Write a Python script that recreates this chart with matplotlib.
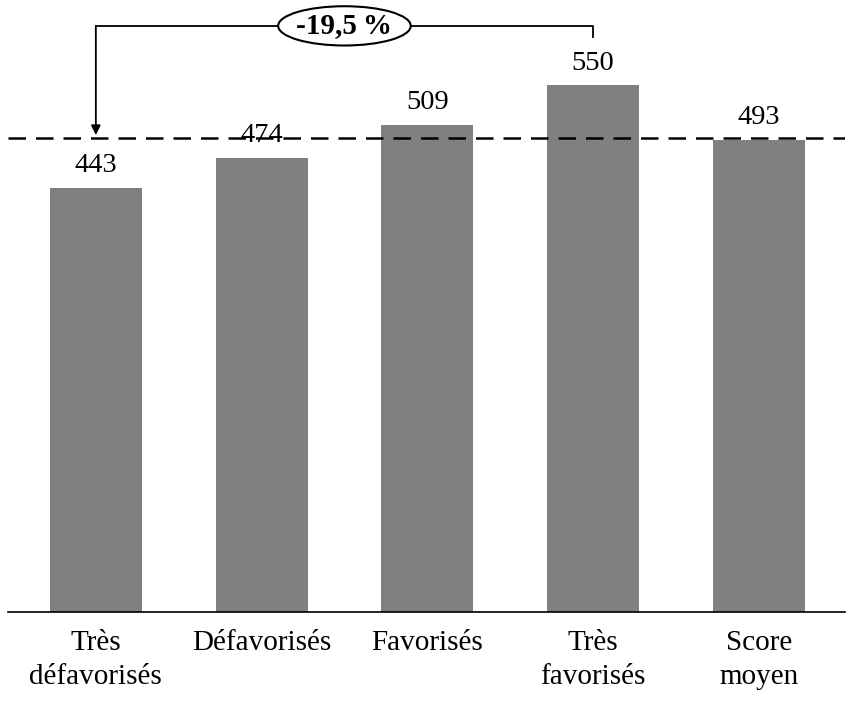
import matplotlib
matplotlib.use("Agg")
import matplotlib.pyplot as plt
from matplotlib.patches import Ellipse

categories = ["Très\ndéfavorisés", "Défavorisés", "Favorisés", "Très\nfavorisés", "Score\nmoyen"]
values = [443, 474, 509, 550, 493]
mean_score = 493
gap_label = "-19,5\u2009%"

plt.rcParams['font.family'] = ['Liberation Serif', 'DejaVu Serif']

fig = plt.figure(figsize=(8.54, 7.09), dpi=100)
W, H = 854, 709
ax = fig.add_axes([8 / W, (H - 612) / H, (845 - 8) / W, 612 / H])

x = list(range(len(categories)))
ax.bar(x, values, width=0.555, color="#808080", zorder=2)
ax.set_xlim(-0.53, 4.52)
ax.set_ylim(0, 639)

for xi, v in zip(x, values):
    ax.text(xi, v + 10, str(v), ha="center", va="bottom", fontsize=20.5, zorder=4)

ax.axhline(mean_score + 1.5, color="black", lw=1.8, ls=(0, (7, 4)), zorder=3)

for s in ["top", "left", "right"]:
    ax.spines[s].set_visible(False)
ax.spines["bottom"].set_linewidth(1.2)
ax.set_yticks([])
ax.set_xticks(x)
ax.set_xticklabels(categories, fontsize=21, linespacing=1.42)
ax.tick_params(axis="x", length=0, pad=13)

# bracket annotation between first and fourth bars
i0, i1 = 0, 3
ybr = 612
ax.plot([i1, i1, i0], [600, ybr, ybr], color="black", lw=1.3, clip_on=False, zorder=5)
ax.annotate("", xy=(i0, 498), xytext=(i0, ybr),
            arrowprops=dict(arrowstyle="-|>", color="black", lw=1.3, mutation_scale=14,
                            shrinkA=0, shrinkB=0),
            annotation_clip=False, zorder=5)
xc = (i0 + i1) / 2
ell = Ellipse((xc, ybr), width=0.8, height=41, facecolor="white", edgecolor="black",
              lw=1.5, clip_on=False, zorder=6)
ax.add_patch(ell)
ax.text(xc, ybr, gap_label, ha="center", va="center", fontsize=21, fontweight="bold",
        zorder=7, clip_on=False)

fig.savefig("out.png", dpi=100)
